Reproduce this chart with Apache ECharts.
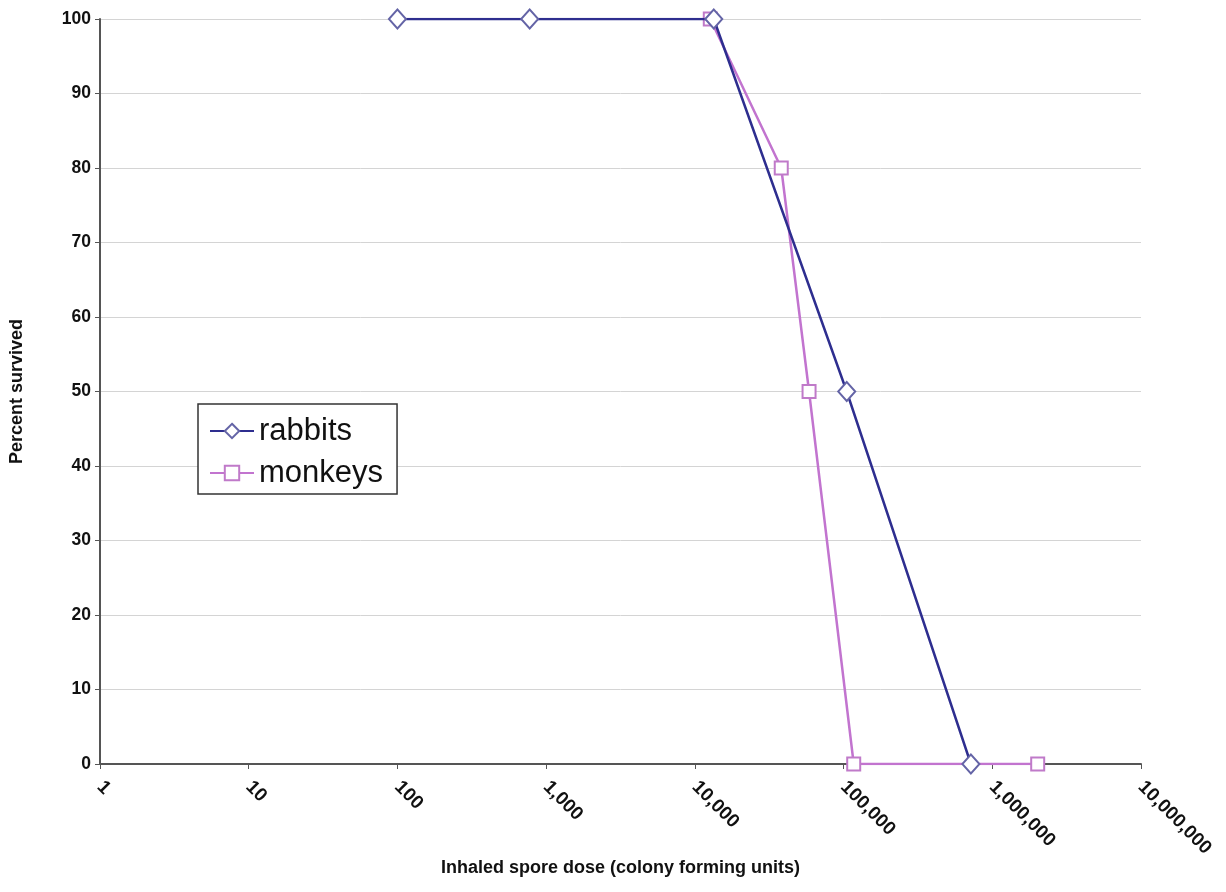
<!DOCTYPE html>
<html>
<head>
<meta charset="utf-8">
<script src="https://cdn.jsdelivr.net/npm/echarts@6/dist/echarts.min.js"></script>
<style>html,body{margin:0;padding:0;background:#fff}#c{width:1226px;height:892px}</style>
</head>
<body>
<div id="c"></div>
<script>
const rabbitsDose = [100, 775, 13400, 105000, 718000];
const rabbitsPct = [100, 100, 100, 50, 0];
const monkeysDose = [12700, 38100, 58600, 117000, 2020000];
const monkeysPct = [100, 80, 50, 0, 0];
const yTicks = [0, 10, 20, 30, 40, 50, 60, 70, 80, 90, 100];

const chart = echarts.init(document.getElementById('c'));
const font = '"Liberation Sans", Arial, sans-serif';
chart.setOption({
  animation: false,
  backgroundColor: '#fff',
  grid: { left: 97, right: 85, top: 19, bottom: 128, containLabel: false },
  legend: {
    orient: 'vertical',
    left: 198, top: 404,
    backgroundColor: '#fff',
    borderColor: '#333',
    borderWidth: 1.5,
    borderRadius: 0,
    padding: [10, 14, 4, 11],
    itemGap: 8,
    itemWidth: 44,
    itemHeight: 18,
    textStyle: { fontFamily: font, fontSize: 31, lineHeight: 34, color: '#111' },
    data: ['rabbits', 'monkeys']
  },
  xAxis: {
    type: 'log', logBase: 10, min: 1, max: 10000000,
    axisLine: { show: true, lineStyle: { color: '#555', width: 2 } },
    axisTick: { show: true, length: 5, lineStyle: { color: '#555' } },
    splitLine: { show: false },
    minorTick: { show: false },
    axisLabel: {
      rotate: -45, margin: 20,
      fontFamily: font, fontSize: 19, fontWeight: 'bold', color: '#111',
      formatter: v => Math.round(v).toLocaleString('en-US')
    },
    name: 'Inhaled spore dose (colony forming units)',
    nameLocation: 'middle', nameGap: 95, nameMoveOverlap: false,
    nameTextStyle: { fontFamily: font, fontSize: 18, fontWeight: 'bold', color: '#111' }
  },
  yAxis: {
    type: 'value', min: yTicks[0], max: yTicks[yTicks.length - 1], interval: 10,
    axisLine: { show: true, lineStyle: { color: '#555', width: 2 } },
    axisTick: { show: true, length: 5, lineStyle: { color: '#555' } },
    splitLine: { show: true, lineStyle: { color: '#d4d4d4', width: 1 } },
    axisLabel: { fontFamily: font, fontSize: 17.5, fontWeight: 'bold', color: '#111', margin: 9 },
    name: 'Percent survived',
    nameLocation: 'middle', nameGap: 74,
    nameTextStyle: { fontFamily: font, fontSize: 18, fontWeight: 'bold', color: '#111' }
  },
  series: [
    {
      name: 'rabbits', type: 'line', z: 3,
      data: rabbitsDose.map((d, i) => [d, rabbitsPct[i]]),
      symbol: 'diamond', symbolSize: [17, 19],
      lineStyle: { color: '#2e2e8f', width: 2.5 },
      itemStyle: { color: '#fff', borderColor: '#6464a6', borderWidth: 2 }
    },
    {
      name: 'monkeys', type: 'line', z: 2,
      data: monkeysDose.map((d, i) => [d, monkeysPct[i]]),
      symbol: 'rect', symbolSize: 13,
      lineStyle: { color: '#c274cf', width: 2.5 },
      itemStyle: { color: '#fff', borderColor: '#c07ac9', borderWidth: 2 }
    }
  ]
});
</script>
</body>
</html>
